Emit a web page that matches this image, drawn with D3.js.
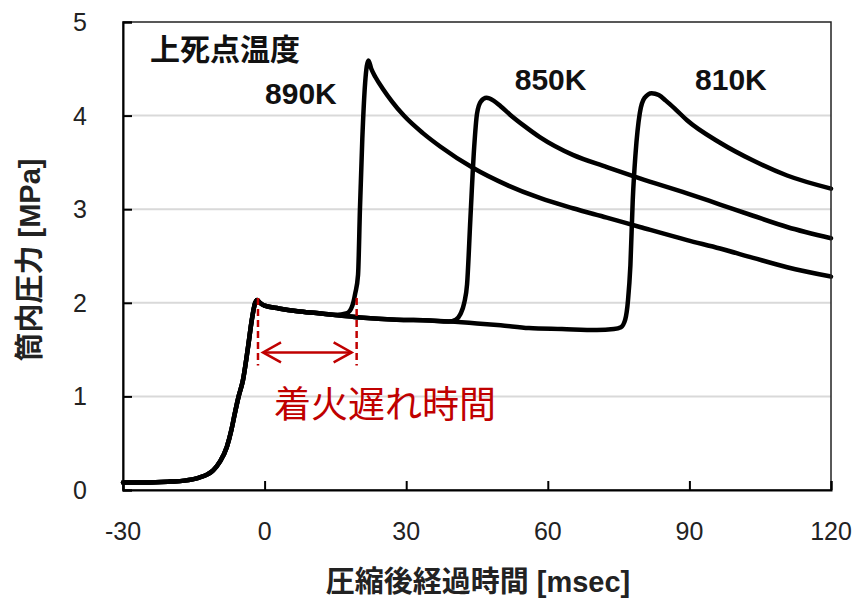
<!DOCTYPE html>
<html>
<head>
<meta charset="utf-8">
<script src="https://cdn.jsdelivr.net/npm/d3@7/dist/d3.min.js"></script>
<style>
  html, body { margin: 0; padding: 0; background: #fff; }
  svg { display: block; }
  .latin { font-family: "Liberation Sans", Arial, "Noto Sans CJK JP", sans-serif; }
</style>
</head>
<body>
<svg id="chart" width="856" height="600"></svg>
<script>
// Cylinder pressure traces [msec, MPa] for three TDC temperatures.
// Compression stroke up to top dead centre (shared by all runs).
const compression = [
  [-30, 0.08], [-25, 0.08], [-20, 0.09], [-17, 0.10], [-14, 0.13], [-12, 0.17],
  [-10.9, 0.21], [-9.5, 0.30], [-8, 0.46], [-7, 0.65], [-6.3, 0.82], [-5.5, 1.0],
  [-4.6, 1.17], [-3.5, 1.53], [-2.7, 1.82], [-2.0, 2.0], [-1.6, 2.03]
];
// Slow pressure decay after TDC (shared by all runs).
const decayTDC = [[-1.0, 2.0], [0, 1.97], [3, 1.94], [7, 1.91], [11, 1.89], [15, 1.87]];
// Continued decay before ignition (850K and 810K runs).
const decayLong = [[21, 1.84], [28, 1.82], [35, 1.81], [39, 1.80]];

// Ignition and combustion for each run.
const branch890 = [
  [17.5, 1.89], [18.6, 1.97], [19.2, 2.1], [19.8, 2.3], [20.2, 3.0], [20.7, 3.75],
  [21.3, 4.35], [22.0, 4.59], [22.6, 4.5], [23.5, 4.41], [25, 4.29], [27, 4.15],
  [29.5, 4.0], [33.6, 3.81], [37.2, 3.67], [44.2, 3.44], [51.3, 3.26], [58.3, 3.12],
  [65.3, 3.01], [72.5, 2.91], [79.5, 2.81], [89.5, 2.67], [96.5, 2.58], [103.5, 2.48],
  [110.7, 2.38], [120, 2.28]
];
const branch850 = [
  [40.5, 1.82], [41.5, 1.88], [42.3, 2.0], [42.9, 2.2], [43.6, 2.9], [44.4, 3.66],
  [45.0, 4.02], [45.8, 4.15], [47, 4.19], [48.5, 4.16], [50, 4.1], [52, 4.01],
  [55, 3.89], [58.3, 3.77], [65.3, 3.58], [72.5, 3.45], [79.5, 3.33], [89.5, 3.17],
  [96.5, 3.05], [103.5, 2.93], [110.7, 2.81], [120, 2.69]
];
const branch810 = [
  [45, 1.78], [50, 1.76], [56, 1.73], [63, 1.72], [70.4, 1.71], [74, 1.72],
  [75.5, 1.74], [76.4, 1.82], [77, 2.03], [77.5, 2.4], [78, 3.1], [78.6, 3.6],
  [79.5, 4.03], [80.5, 4.19], [82, 4.24], [83.5, 4.22], [85, 4.16], [87, 4.07],
  [89.5, 3.95], [96.5, 3.71], [103.5, 3.52], [110.7, 3.36], [120, 3.22]
];

const seriesNames = ["890K", "850K", "810K"];
const seriesPoints = [
  compression.concat(decayTDC, branch890),
  compression.concat(decayTDC, decayLong, branch850),
  compression.concat(decayTDC, decayLong, branch810)
];
// Label anchor points [msec, MPa] for the run temperatures.
const seriesLabelAt = [[0.1, 4.12], [53.0, 4.27], [91.2, 4.27]];

const xTicks = [-30, 0, 30, 60, 90, 120];
const yTicks = [0, 1, 2, 3, 4, 5];

// Ignition delay marker: from TDC to ignition of the 890K run.
const delayStart = -1.4;
const delayEnd = 19.5;

const xTitle = "圧縮後経過時間 [msec]";
const yTitle = "筒内圧力 [MPa]";
const groupTitle = "上死点温度";
const delayLabel = "着火遅れ時間";

const plot = { left: 123, right: 831, top: 22, bottom: 490 };

const svg = d3.select("#chart");
const x = d3.scaleLinear().domain([-30, 120]).range([plot.left, plot.right]);
const y = d3.scaleLinear().domain([0, 5]).range([plot.bottom, plot.top]);

// Horizontal gridlines
svg.append("g")
  .selectAll("line")
  .data(yTicks.filter(d => d > 0 && d < 5))
  .join("line")
  .attr("x1", plot.left).attr("x2", plot.right)
  .attr("y1", d => y(d)).attr("y2", d => y(d))
  .attr("stroke", "#d9d9d9").attr("stroke-width", 2);

// Pressure traces
const line = d3.line()
  .x(d => x(d[0])).y(d => y(d[1]))
  .curve(d3.curveMonotoneX);

svg.append("g")
  .selectAll("path")
  .data(seriesPoints)
  .join("path")
  .attr("d", line)
  .attr("fill", "none")
  .attr("stroke", "#000")
  .attr("stroke-width", 4.5)
  .attr("stroke-linejoin", "round")
  .attr("stroke-linecap", "round");

// Plot frame
svg.append("rect")
  .attr("x", plot.left).attr("y", plot.top)
  .attr("width", plot.right - plot.left).attr("height", plot.bottom - plot.top)
  .attr("fill", "none").attr("stroke", "#222").attr("stroke-width", 1.5);

// Axes with inward ticks
const xAxis = svg.append("g")
  .attr("transform", `translate(0,${plot.bottom})`)
  .call(d3.axisTop(x).tickValues(xTicks).tickSize(9).tickFormat(""));
const yAxis = svg.append("g")
  .attr("transform", `translate(${plot.left},0)`)
  .call(d3.axisRight(y).tickValues(yTicks).tickSize(9).tickFormat(""));
[xAxis, yAxis].forEach(g => {
  g.select(".domain").attr("stroke", "#000").attr("stroke-width", 2);
  g.selectAll(".tick line").attr("stroke", "#000").attr("stroke-width", 2);
});

// Tick labels
svg.append("g").attr("class", "latin")
  .selectAll("text").data(xTicks).join("text")
  .attr("x", d => x(d)).attr("y", 540)
  .attr("text-anchor", "middle")
  .attr("font-size", 25).attr("fill", "#222")
  .text(d => d);
svg.append("g").attr("class", "latin")
  .selectAll("text").data(yTicks).join("text")
  .attr("x", 87).attr("y", d => y(d))
  .attr("dy", "0.36em")
  .attr("text-anchor", "end")
  .attr("font-size", 25).attr("fill", "#222")
  .text(d => d);

// Axis titles
svg.append("text").attr("class", "latin")
  .attr("x", 478).attr("y", 592)
  .attr("text-anchor", "middle")
  .attr("font-size", 29).attr("font-weight", "bold").attr("fill", "#222")
  .text(xTitle);
svg.append("text").attr("class", "latin")
  .attr("transform", `translate(40,260) rotate(-90)`)
  .attr("text-anchor", "middle")
  .attr("font-size", 29).attr("font-weight", "bold").attr("fill", "#222")
  .text(yTitle);

// Run labels
svg.append("text").attr("class", "latin")
  .attr("x", 150).attr("y", 60)
  .attr("font-size", 30).attr("font-weight", "bold").attr("fill", "#111")
  .text(groupTitle);
svg.append("g").attr("class", "latin")
  .selectAll("text").data(seriesNames).join("text")
  .attr("x", (d, i) => x(seriesLabelAt[i][0]))
  .attr("y", (d, i) => y(seriesLabelAt[i][1]))
  .attr("font-size", 30).attr("font-weight", "bold").attr("fill", "#111")
  .text(d => d);

// Ignition delay annotation
const red = "#c00000";
const ann = svg.append("g");
const yTop = y(2.05), yBot = y(1.33), yArrow = y(1.47);
[delayStart, delayEnd].forEach(t => {
  ann.append("line")
    .attr("x1", x(t)).attr("x2", x(t))
    .attr("y1", yTop).attr("y2", yBot)
    .attr("stroke", red).attr("stroke-width", 2.5)
    .attr("stroke-dasharray", "7,4");
});
const ax1 = x(delayStart) + 5, ax2 = x(delayEnd) - 5;
ann.append("line")
  .attr("x1", ax1).attr("x2", ax2).attr("y1", yArrow).attr("y2", yArrow)
  .attr("stroke", red).attr("stroke-width", 2.5);
ann.append("path")
  .attr("d", `M${ax1 + 18},${yArrow - 10} L${ax1},${yArrow} L${ax1 + 18},${yArrow + 10}` +
             `M${ax2 - 18},${yArrow - 10} L${ax2},${yArrow} L${ax2 - 18},${yArrow + 10}`)
  .attr("fill", "none").attr("stroke", red).attr("stroke-width", 2.5);
ann.append("text")
  .attr("x", 274).attr("y", 418)
  .attr("font-family", "'Noto Sans CJK JP', sans-serif")
  .attr("font-size", 37).attr("fill", red)
  .text(delayLabel);
</script>
</body>
</html>
